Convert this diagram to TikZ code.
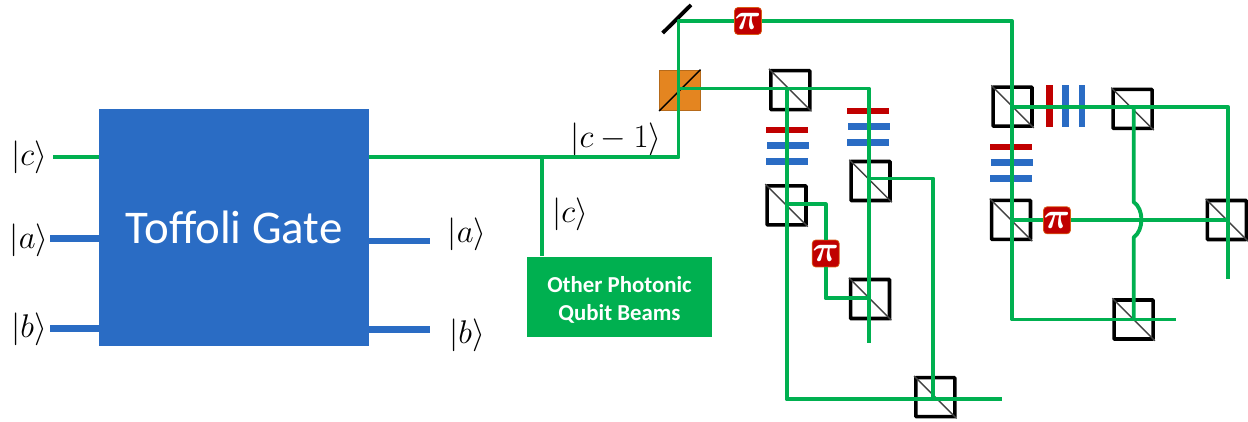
\documentclass[tikz,border=0pt]{standalone}
\usepackage{amsmath,amssymb}
\usepackage{fontspec}
\setmainfont{Carlito}
\definecolor{BeamGreen}{HTML}{00B050}
\definecolor{GateBlue}{HTML}{2A6CC4}
\definecolor{PlateRed}{HTML}{C00000}
\definecolor{CubeOrange}{HTML}{E48520}
\tikzset{
  beam/.style     = {BeamGreen,line width=2.2pt,line join=round},
  qubit/.style    = {GateBlue,line width=3.7pt},
  gatebox/.style  = {fill=GateBlue,text=white,inner sep=0pt,minimum width=5.4cm,minimum height=4.74cm,font=\fontsize{26.7}{30}\selectfont},
  otherbox/.style = {fill=BeamGreen,text=white,inner sep=0pt,minimum width=3.71cm,minimum height=1.61cm,align=center,font=\bfseries\fontsize{13}{15.5}\selectfont},
  cubebox/.style  = {draw=black,line width=2pt,minimum size=0.78cm,inner sep=0pt,rounded corners=0.4pt},
  orangebox/.style= {draw=CubeOrange!80!black,fill=CubeOrange,line width=0.5pt,minimum size=0.81cm,inner sep=0pt},
  diagline/.style = {black!75,line width=0.8pt},
  phasebox/.style = {fill=PlateRed,draw=CubeOrange!70!PlateRed,line width=0.4pt,rounded corners=2pt,minimum size=0.54cm,inner sep=0pt,text=white,font=\fontsize{21}{21}\selectfont},
  plateh/.style   = {minimum width=0.84cm,minimum height=0.135cm,inner sep=0pt},
  platev/.style   = {minimum width=0.135cm,minimum height=0.84cm,inner sep=0pt},
  ketlabel/.style = {inner sep=0pt,scale=1.08,font=\fontsize{17.28}{22}\selectfont}
}
\newcommand{\ket}[1]{$\lvert #1\rangle$}
% beam splitter: name, centre, point where the beam hits the diagonal
\newcommand{\pbs}[3]{%
  \node[cubebox] (#1) at (#2) {};
  \draw[diagline] (#1.north west) -- (#1.south east);
  \coordinate (#1-h) at (#3);
}
\newcommand{\phase}[2]{\node[phasebox] (#1) at (#2) {$\boldsymbol{\pi}$};}
\newcommand{\stackh}[3]{%
  \foreach \i/\col/\dx/\dy in {0/PlateRed/0/0,1/GateBlue/1/15.7,2/GateBlue/0/31.3}
    \node[plateh,fill=\col] (#1-\i) at (#2+\dx,#3+\dy) {};
}
\newcommand{\stackv}[3]{%
  \foreach \i/\col/\dx in {0/PlateRed/0,1/GateBlue/16,2/GateBlue/32.7}
    \node[platev,fill=\col] (#1-\i) at (#2+\dx,#3) {};
}
\begin{document}
\begin{tikzpicture}[x=0.02cm,y=-0.02cm]
  \useasboundingbox (0,0) rectangle (1248,422);
  % left part
  \node[gatebox] (gate) at (234,227.5) {Toffoli Gate};
  \node[otherbox] (other) at (619.5,297) {\rule{0pt}{12.5pt}Other Photonic\\Qubit Beams};
  \node[ketlabel] (lc) at (29,157) {\ket{c}};
  \node[ketlabel] (la) at (29,240) {\ket{a}};
  \node[ketlabel] (lb) at (29,329) {\ket{b}};
  \node[ketlabel] (ra) at (467,234) {\ket{a}};
  \node[ketlabel] (rb) at (467,335) {\ket{b}};
  \node[ketlabel] (lcm) at (616,139) {$\lvert c-1\rangle$};
  \node[ketlabel] (lcs) at (570,214) {\ket{c}};
  \coordinate (cin) at (53,157.3);
  \coordinate (ain) at (50,238.3);
  \coordinate (bin) at (50,328.3);
  \coordinate (aout) at (429.5,241);
  \coordinate (bout) at (429.5,329.3);
  \coordinate (stem) at (541.7,155);
  \draw[qubit] (ain) -- (ain -| gate.west);
  \draw[qubit] (bin) -- (bin -| gate.west);
  \draw[qubit] (aout -| gate.east) -- (aout);
  \draw[qubit] (bout -| gate.east) -- (bout);
  % optical elements
  \node[orangebox] (cube) at (679.8,90.3) {};
  \draw[black,line width=0.8pt] (cube.south west) -- (cube.north east);
  \coordinate (cube-h) at (678.5,88.5);
  \coordinate (mirA) at (662.7,33);
  \coordinate (mirB) at (691,5);
  \coordinate (mir-h) at (678.5,21);
  \draw[black,line width=2.2pt] (mirA) -- (mirB);
  \pbs{pa}{790.3,90.1}{786.7,88.5}
  \pbs{pb}{870.5,181}{869,178.5}
  \pbs{pc}{786.5,205.3}{786.7,204.3}
  \pbs{pd}{870,299}{868.7,298.3}
  \pbs{pe}{935.3,397.2}{933.3,399.3}
  \pbs{pf}{1012.5,106.7}{1012,106.7}
  \pbs{pg}{1132.5,108.8}{1133.7,106.7}
  \pbs{ph}{1011,219.8}{1012,220.3}
  \pbs{pi}{1226.8,220}{1227.7,220.3}
  \pbs{pj}{1133.5,319.5}{1133.7,319.5}
  \stackh{sa}{786.5}{130}
  \stackh{sb}{868.2}{111}
  \stackh{sc}{1011.2}{147}
  \stackv{sd}{1049.3}{106.3}
  \phase{phia}{748,21}
  \phase{phib}{825.7,253.5}
  \phase{phic}{1057,220.3}
  % free ends of the beams
  \coordinate (enda) at (869,342.7);
  \coordinate (endb) at (1001.7,399.3);
  \coordinate (endc) at (1227.7,279);
  \coordinate (endd) at (1175.7,319.5);
  \coordinate (jmpa) at (1133.7,202);
  \coordinate (jmpb) at (1133.7,237.5);
  % beams
  \draw[beam] (cin) -- (cin -| gate.west);
  \draw[beam] (cin -| gate.east) -| (mir-h) -- (phia);
  \draw[beam] (stem) -- (stem |- other.north);
  \draw[beam] (phia) -| (pf-h) -- (ph-h) |- (endd);
  \draw[beam] (cube-h) -| (enda);
  \draw[beam] (pa-h) |- (endb);
  \draw[beam] (pb-h) -| (pe-h);
  \draw[beam] (pc-h) -| (phib);
  \draw[beam] (phib) |- (pd-h);
  \draw[beam] (pf-h) -| (endc);
  \draw[beam] (pg-h) -- (jmpa) .. controls (1144,209) and (1144,230) .. (jmpb) -- (pj-h);
  \draw[beam] (ph-h) -- (phic);
  \draw[beam] (phic) -- (pi-h);
\end{tikzpicture}
\end{document}
